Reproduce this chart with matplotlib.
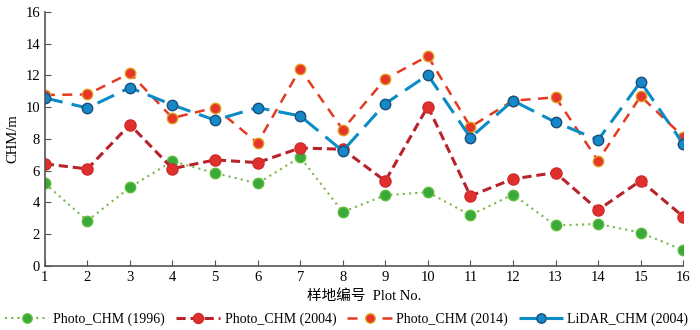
import matplotlib
matplotlib.use("Agg")
import matplotlib.pyplot as plt

# ---- 数据 ----
plots = list(range(1, 17))
photo_1996 = [5.2, 2.85, 4.95, 6.6, 5.85, 5.2, 6.85, 3.4, 4.45, 4.65, 3.2, 4.5, 2.55, 2.65, 2.1, 1.0]
photo_2004 = [6.43, 6.11, 8.9, 6.13, 6.68, 6.51, 7.43, 7.35, 5.35, 10.04, 4.41, 5.48, 5.88, 3.53, 5.37, 3.11]
photo_2014 = [10.77, 10.8, 12.14, 9.32, 9.97, 7.75, 12.41, 8.59, 11.78, 13.21, 8.76, 10.41, 10.62, 6.63, 10.69, 8.14]
lidar_2004 = [10.58, 9.95, 11.23, 10.14, 9.18, 9.97, 9.45, 7.24, 10.22, 12.03, 8.08, 10.41, 9.05, 7.94, 11.59, 7.69]
labels = ["Photo_CHM (1996)", "Photo_CHM (2004)", "Photo_CHM (2014)", "LiDAR_CHM (2004)"]

plt.rcParams['font.family'] = ['Liberation Serif', 'Noto Sans CJK SC']

fig = plt.figure(figsize=(7, 3.3), dpi=100)
ax = fig.add_axes([0.064, 0.194, 0.912, 0.77])

ax.plot(plots, photo_1996, linestyle=(0, (1, 2)), color="#7ab648", lw=1.5,
        marker="o", ms=7.5, mfc="#3aa83a", mec="#5cbf3a", label=labels[0])
ax.plot(plots, photo_2004, linestyle=(0, (3, 1.6)), color="#b8232a", lw=2.2,
        marker="o", ms=8, mfc="#e0302e", mec="#d02a2a", label=labels[1])
ax.plot(plots, photo_2014, linestyle=(0, (4, 3)), color="#e43a22", lw=1.8,
        marker="o", ms=7.5, mfc="#e8352a", mec="#e0a020", label=labels[2])
ax.plot(plots, lidar_2004, linestyle=(0, (6, 3)), color="#0a8cc6", lw=2.2,
        marker="o", ms=7.5, mfc="#1488c8", mec="#1b4f7a", label=labels[3])

ax.set_xlim(1, 16)
ax.set_ylim(0, 16)
ax.set_xticks(plots)
ax.set_yticks(range(0, 17, 2))
ax.tick_params(direction="in", labelsize=10.5, length=4, color="#555555")
for s in ["top", "right"]:
    ax.spines[s].set_visible(False)
for s in ["left", "bottom"]:
    ax.spines[s].set_color("#555555")
    ax.spines[s].set_linewidth(1.2)

ax.set_ylabel("CHM/m", fontsize=10.5)
ax.set_xlabel("样地编号  Plot No.", fontsize=10.5, labelpad=4)

fig.legend(loc="lower center", ncol=4, frameon=False, fontsize=10,
           bbox_to_anchor=(0.495, -0.025), handlelength=3.2, columnspacing=0.8,
           handletextpad=0.3, markerscale=0.9)

fig.savefig("out.png", dpi=100)
